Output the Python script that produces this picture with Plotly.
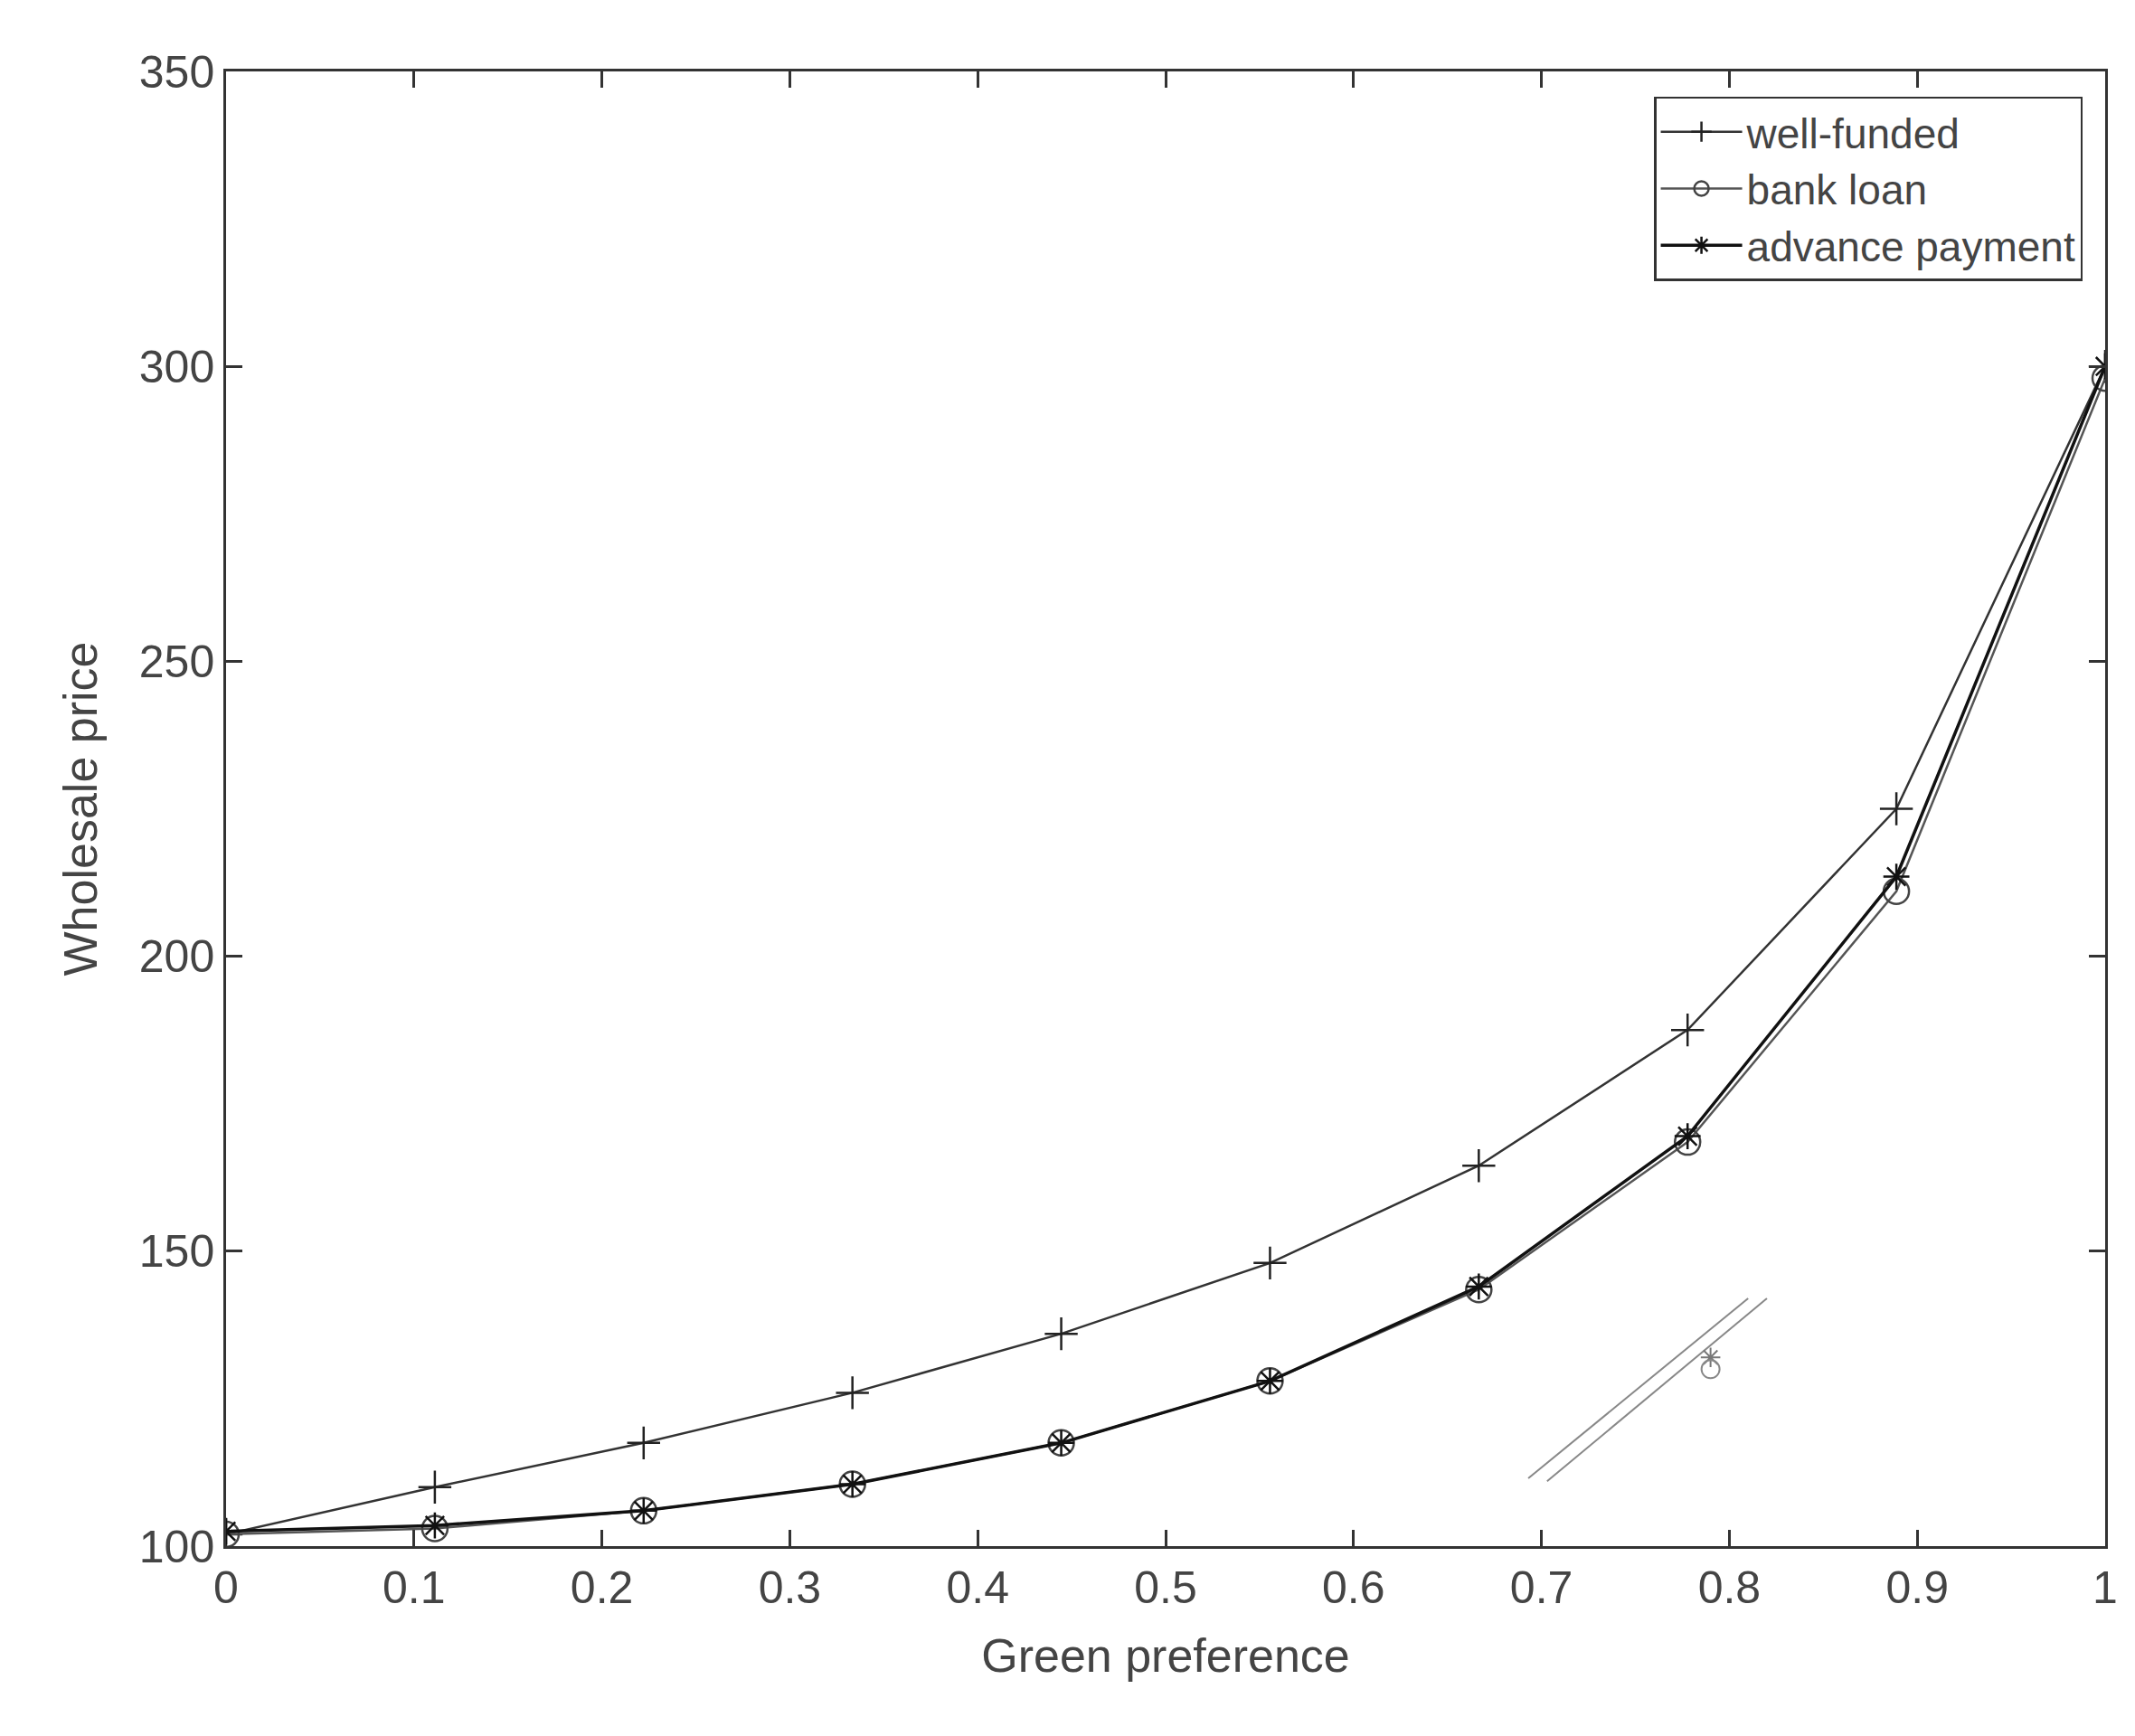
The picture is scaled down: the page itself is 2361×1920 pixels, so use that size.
import plotly.graph_objects as go

x = [0, 1/9, 2/9, 3/9, 4/9, 5/9, 6/9, 7/9, 8/9, 1]
well_funded = [102, 110, 117.5, 126, 136, 148, 164.5, 187.5, 225, 300]
bank_loan = [102, 103, 106, 110.5, 117.5, 128, 143.5, 168.5, 211, 298]
advance_payment = [102.5, 103.5, 106, 110.5, 117.5, 128, 144, 169.5, 213.5, 300]

# stray fragment visible in the original figure
stray_x1 = [0.693, 0.81]
stray_y1 = [111.5, 142]
stray_x2 = [0.703, 0.82]
stray_y2 = [111, 142]
stray_mx = [0.79]
stray_star = [132]
stray_circle = [130]

fig = go.Figure()
fig.add_trace(go.Scatter(x=x, y=well_funded, name="well-funded", mode="lines+markers",
                         line=dict(color="#333", width=2.5),
                         marker=dict(symbol="cross-thin", size=26, color="#222",
                                     line=dict(color="#222", width=2.5))))
fig.add_trace(go.Scatter(x=x, y=bank_loan, name="bank loan", mode="lines+markers",
                         line=dict(color="#555", width=2.5),
                         marker=dict(symbol="circle-open", size=28, color="#444", line=dict(width=2.5))))
fig.add_trace(go.Scatter(x=x, y=advance_payment, name="advance payment", mode="lines+markers",
                         line=dict(color="#111", width=3.5),
                         marker=dict(symbol="asterisk-open", size=24, color="#111",
                                     line=dict(color="#111", width=2.5))))
for sx, sy in [(stray_x1, stray_y1), (stray_x2, stray_y2)]:
    fig.add_trace(go.Scatter(x=sx, y=sy, mode="lines", showlegend=False,
                             line=dict(color="#888", width=2)))
fig.add_trace(go.Scatter(x=stray_mx, y=stray_star, mode="markers", showlegend=False,
                         marker=dict(symbol="asterisk-open", size=18, color="#777",
                                     line=dict(color="#777", width=2))))
fig.add_trace(go.Scatter(x=stray_mx, y=stray_circle, mode="markers", showlegend=False,
                         marker=dict(symbol="circle-open", size=20, color="#888", line=dict(width=2))))

axis = dict(showgrid=False, zeroline=False, showline=True, linecolor="#333", linewidth=2.5,
            mirror="ticks", ticks="inside", ticklen=18, tickwidth=2.5, tickcolor="#333",
            tickfont=dict(size=50, color="#444"))
fig.update_layout(
    width=2361, height=1920,
    paper_bgcolor="white", plot_bgcolor="white",
    font=dict(family="Liberation Sans, Arial", color="#444"),
    margin=dict(l=242, r=41, t=71, b=218),
    xaxis=dict(axis, range=[0, 1], dtick=0.1, tickformat="~g",
               title=dict(text="Green preference", font=dict(size=52), standoff=30)),
    yaxis=dict(axis, range=[100, 350], dtick=50,
               title=dict(text="Wholesale price", font=dict(size=52), standoff=30)),
    legend=dict(x=0.988, y=0.983, xanchor="right", yanchor="top",
                bgcolor="white", bordercolor="#333", borderwidth=2.5,
                font=dict(size=46, color="#444"), itemwidth=90, tracegroupgap=12),
)
fig.write_html("out.html")
